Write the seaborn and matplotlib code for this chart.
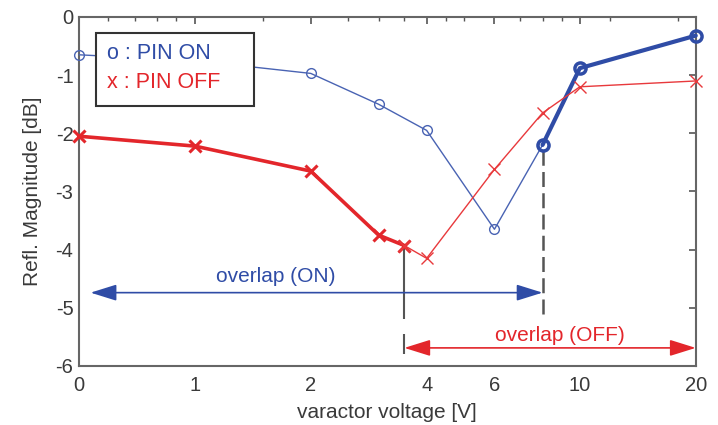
#!/usr/bin/env python3

import numpy as np
import pandas as pd
import matplotlib
matplotlib.use("Agg")
import matplotlib.pylab as plt
import seaborn as sns

# Measured reflection magnitude vs varactor voltage
voltage_on = [0, 1, 2, 3, 4, 6, 8, 10, 20]
magnitude_on = [-0.65, -0.75, -0.97, -1.5, -1.95, -3.65, -2.2, -0.88, -0.32]

voltage_off = [0, 1, 2, 3, 3.5, 4, 6, 8, 10, 20]
magnitude_off = [-2.05, -2.22, -2.65, -3.75, -3.93, -4.15, -2.62, -1.65, -1.2, -1.1]

# Where each curve switches between thin and thick line
split_on = 8
split_off = 3.5

x_ticks = [0, 1, 2, 4, 6, 10, 20]
x_minor = [0.25, 0.48, 0.67, 0.84, 1.5, 2.5, 3, 3.5, 4.5, 5, 7, 8, 9, 12, 18]
y_ticks = [-6, -5, -4, -3, -2, -1, 0]

# Overlap annotations: (start V, end V, level dB)
overlap_on = (0.1, 8, -4.74)
overlap_off = (3.5, 20, -5.69)

BLUE = "#2f4ca6"
BLUE_THIN = "#4963b3"
RED = "#e3262b"
RED_THIN = "#e8393c"
GRAY = "#555555"
TEXT = "#3a3a3a"


def forward(v):
    v = np.asarray(v, dtype=float)
    return np.where(v >= 1, np.log2(np.maximum(v, 1)), v - 1)


def inverse(p):
    p = np.asarray(p, dtype=float)
    return np.where(p >= 0, 2.0 ** np.maximum(p, 0), p + 1)


def main():
    df_on = pd.DataFrame({"voltage": voltage_on, "magnitude": magnitude_on})
    df_off = pd.DataFrame({"voltage": voltage_off, "magnitude": magnitude_off})

    sns.set_style("white")
    plt.rcParams["font.family"] = ["Liberation Sans", "DejaVu Sans"]

    fig, ax = plt.subplots(figsize=(7.18, 4.25), dpi=100)
    fig.subplots_adjust(left=0.110, right=0.969, bottom=0.139, top=0.96)
    ax.set_xscale("function", functions=(forward, inverse))

    # PIN ON: thin up to 8 V, thick afterwards
    for part, col, lw, mew, ms in [
        (df_on[df_on.voltage <= split_on], BLUE_THIN, 1.0, 1.0, 7),
        (df_on[df_on.voltage >= split_on], BLUE, 3.0, 2.5, 8),
    ]:
        sns.lineplot(
            data=part, x="voltage", y="magnitude", ax=ax, color=col,
            linewidth=lw, marker="o", markersize=ms, markerfacecolor="none",
            markeredgecolor=col, markeredgewidth=mew, sort=False,
            clip_on=False, zorder=3,
        )

    # PIN OFF: thick up to 3.5 V, thin afterwards
    for part, col, lw, mew, ms in [
        (df_off[df_off.voltage <= split_off], RED, 2.6, 2.2, 9),
        (df_off[df_off.voltage >= split_off], RED_THIN, 1.0, 1.0, 9),
    ]:
        sns.lineplot(
            data=part, x="voltage", y="magnitude", ax=ax, color=col,
            linewidth=lw, marker="x", markersize=ms,
            markeredgecolor=col, markeredgewidth=mew, sort=False,
            clip_on=False, zorder=3,
        )

    # Marker lines for the overlap boundaries
    ax.vlines(split_off, -5.2, -3.97, color=GRAY, linewidth=1.5)
    ax.vlines(split_off, -5.8, -5.45, color=GRAY, linewidth=1.5)
    ax.vlines(split_on, -5.1, -2.28, color=GRAY, linewidth=1.8,
              linestyles=(0, (6, 2.5)))

    head = "<|-|>,head_length=0.8,head_width=0.25"
    ax.annotate("", xy=(overlap_on[0], overlap_on[2]),
                xytext=(overlap_on[1], overlap_on[2]),
                arrowprops=dict(arrowstyle=head, color=BLUE, lw=1.2,
                                mutation_scale=20, shrinkA=0, shrinkB=0))
    ax.text(1.62, -4.47, "overlap (ON)", color=BLUE, fontsize=15,
            ha="center", va="center")

    ax.annotate("", xy=(overlap_off[0], overlap_off[2]),
                xytext=(overlap_off[1], overlap_off[2]),
                arrowprops=dict(arrowstyle=head, color=RED, lw=1.2,
                                mutation_scale=20, shrinkA=0, shrinkB=0))
    ax.text(8.9, -5.47, "overlap (OFF)", color=RED, fontsize=15,
            ha="center", va="center")

    # Text legend in a box
    t1 = ax.text(0.24, -0.62, "o : PIN ON", color=BLUE, fontsize=15.5,
                 va="center", ha="left", zorder=6)
    t2 = ax.text(0.24, -1.12, "x : PIN OFF", color=RED, fontsize=15.5,
                 va="center", ha="left", zorder=6)
    ax.add_patch(plt.Rectangle((0.028, 0.745), 0.256, 0.21,
                               transform=ax.transAxes, facecolor="white",
                               edgecolor="#333333", linewidth=1.5, zorder=5))

    ax.set_xlim(0, 20)
    ax.set_ylim(-6, 0)
    ax.set_xticks(x_ticks)
    ax.set_xticklabels([str(t) for t in x_ticks])
    ax.set_xticks(x_minor, minor=True)
    ax.set_yticks(y_ticks)
    ax.set_yticklabels([str(t) for t in y_ticks])
    ax.tick_params(axis="both", which="both", direction="in", top=True,
                   right=True, colors=GRAY, labelcolor=TEXT,
                   labelsize=14.5)
    ax.tick_params(which="major", length=5, width=1.2)
    ax.tick_params(which="minor", length=3, width=1.0)
    ax.tick_params(axis="x", which="major", pad=7)
    ax.tick_params(axis="y", which="major", pad=4)
    for spine in ax.spines.values():
        spine.set_color("#666666")
        spine.set_linewidth(1.5)

    ax.set_xlabel("varactor voltage [V]", fontsize=15, color=TEXT, labelpad=6)
    ax.set_ylabel("Refl. Magnitude [dB]", fontsize=15, color=TEXT, labelpad=10)

    plt.savefig("out.png", dpi=100)


if __name__ == "__main__":
    main()
